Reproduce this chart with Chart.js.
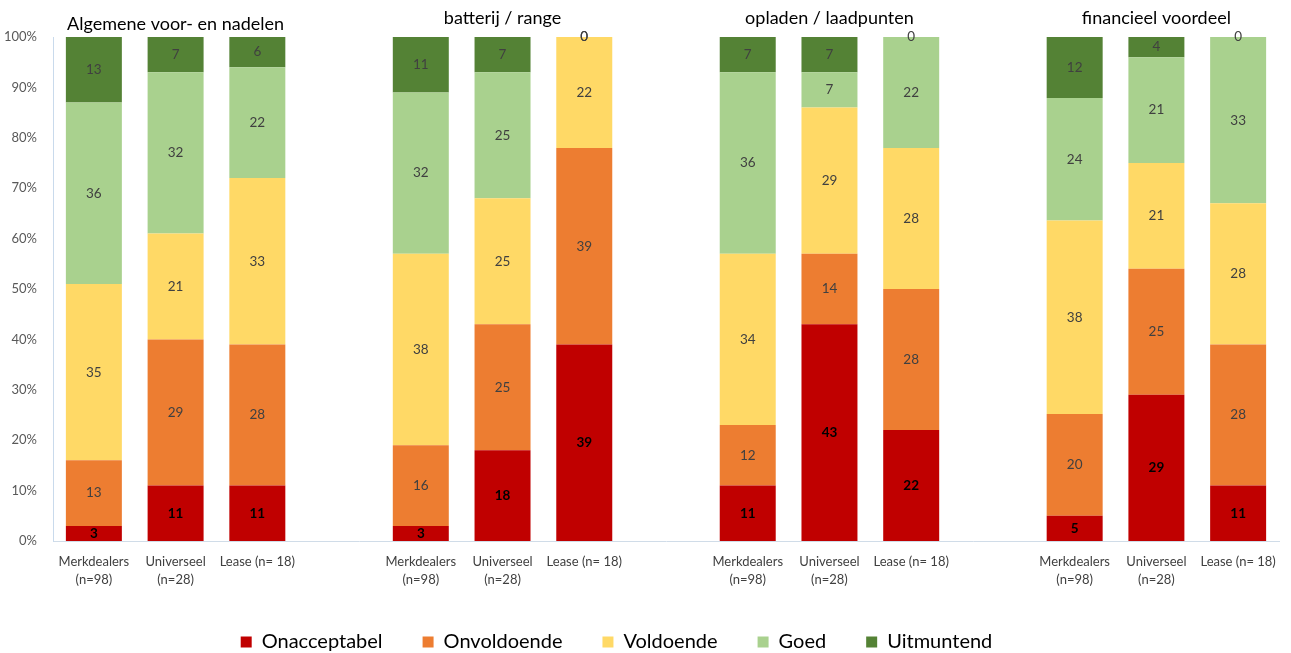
<!DOCTYPE html>
<html>
<head>
<meta charset="utf-8">
<script src="https://cdn.jsdelivr.net/npm/chart.js@4/dist/chart.umd.min.js"></script>
<style>
  html, body { margin: 0; padding: 0; background: #fff; }
  #wrap { width: 1291px; height: 653px; position: relative; }
</style>
</head>
<body>
<div id="wrap"><canvas id="c" width="1291" height="653"></canvas></div>
<script>
// Categories: three respondent groups per theme, with an empty slot between themes
const categories = [
  ['Merkdealers', '(n=98)'], ['Universeel', '(n=28)'], 'Lease (n= 18)', '',
  ['Merkdealers', '(n=98)'], ['Universeel', '(n=28)'], 'Lease (n= 18)', '',
  ['Merkdealers', '(n=98)'], ['Universeel', '(n=28)'], 'Lease (n= 18)', '',
  ['Merkdealers', '(n=98)'], ['Universeel', '(n=28)'], 'Lease (n= 18)'
];
const themes = ['Algemene voor- en nadelen', 'batterij / range', 'opladen / laadpunten', 'financieel voordeel'];

// Share of answers (%) per rating
const onacceptabel = [3, 11, 11, null, 3, 18, 39, null, 11, 43, 22, null, 5.0, 29, 11];
const onvoldoende  = [13, 29, 28, null, 16, 25, 39, null, 12, 14, 28, null, 20.2, 25, 28];
const voldoende    = [35, 21, 33, null, 38, 25, 22, null, 34, 29, 28, null, 38.4, 21, 28];
const goed         = [36, 32, 22, null, 32, 25, 0, null, 36, 7, 22, null, 24.3, 21, 33];
const uitmuntend   = [13, 7, 6, null, 11, 7, 0, null, 7, 7, 0, null, 12.1, 4, 0];

const yTicks = [0, 10, 20, 30, 40, 50, 60, 70, 80, 90, 100];

const FONT = 'Lato, "Open Sans", "Noto Sans", sans-serif';

const series = [
  { label: 'Onacceptabel', data: onacceptabel, color: '#C00000', bold: true },
  { label: 'Onvoldoende',  data: onvoldoende,  color: '#ED7D31' },
  { label: 'Voldoende',    data: voldoende,    color: '#FFD966' },
  { label: 'Goed',         data: goed,         color: '#A9D18E' },
  { label: 'Uitmuntend',   data: uitmuntend,   color: '#548235' }
];

// Value labels inside each bar segment
const segmentLabels = {
  id: 'segmentLabels',
  afterDatasetsDraw(chart) {
    const ctx = chart.ctx;
    ctx.save();
    ctx.textAlign = 'center';
    ctx.textBaseline = 'middle';
    chart.data.datasets.forEach((ds, di) => {
      const meta = chart.getDatasetMeta(di);
      meta.data.forEach((bar, i) => {
        const v = ds.data[i];
        if (v === null || v === undefined) return;
        const y = (bar.y + bar.base) / 2;
        if (ds.boldLabel) {
          ctx.font = 'bold 13.5px ' + FONT;
          ctx.fillStyle = '#000000';
        } else {
          ctx.font = '13.5px ' + FONT;
          ctx.fillStyle = '#404040';
        }
        ctx.fillText(String(Math.round(v)), bar.x, y);
      });
    });
    ctx.restore();
  }
};

// Theme headings above each group of bars
const themeTitles = {
  id: 'themeTitles',
  afterDraw(chart) {
    const ctx = chart.ctx;
    const xs = chart.scales.x;
    ctx.save();
    ctx.textAlign = 'center';
    ctx.textBaseline = 'middle';
    ctx.fillStyle = '#000000';
    themes.forEach((t, g) => {
      const x = xs.getPixelForValue(g * 4 + 1);
      ctx.font = '18px ' + FONT;
      ctx.fillText(t, x, g === 0 ? 24 : 18);
    });
    ctx.restore();
  }
};

// Nudge the centred legend row a little to the left
const legendOffset = {
  id: 'legendOffset',
  afterLayout(chart) {
    if (chart.legend) {
      chart.legend.right -= 46;
    }
  }
};

new Chart(document.getElementById('c'), {
  type: 'bar',
  data: {
    labels: categories,
    datasets: series.map(s => ({
      label: s.label,
      data: s.data,
      backgroundColor: s.color,
      borderWidth: 0,
      boldLabel: !!s.bold,
      barPercentage: 0.685,
      categoryPercentage: 1.0
    }))
  },
  options: {
    responsive: false,
    animation: false,
    devicePixelRatio: 1,
    layout: { padding: { left: 0, right: 12, top: 37, bottom: -9 } },
    plugins: {
      legend: {
        position: 'bottom',
        labels: {
          boxWidth: 11,
          boxHeight: 11,
          padding: 40,
          color: '#000000',
          font: { family: FONT, size: 20 }
        }
      },
      tooltip: { enabled: false },
      title: { display: false }
    },
    scales: {
      x: {
        stacked: true,
        grid: { display: false },
        border: { display: true, color: '#D0DCE8', width: 1 },
        ticks: {
          color: '#404040',
          font: { family: FONT, size: 13, lineHeight: 1.4 },
          maxRotation: 0,
          autoSkip: false,
          padding: 4
        },
        afterFit(scale) { scale.height = 51; }
      },
      y: {
        stacked: true,
        min: 0,
        max: 100,
        grid: { display: false },
        border: { display: true, color: '#C9DAEC', width: 1 },
        afterBuildTicks(scale) { scale.ticks = yTicks.map(v => ({ value: v })); },
        ticks: {
          color: '#595959',
          font: { family: FONT, size: 13 },
          padding: 8,
          callback: v => v + '%'
        },
        afterFit(scale) { scale.width = 53; }
      }
    }
  },
  plugins: [segmentLabels, themeTitles, legendOffset]
});
</script>
</body>
</html>
